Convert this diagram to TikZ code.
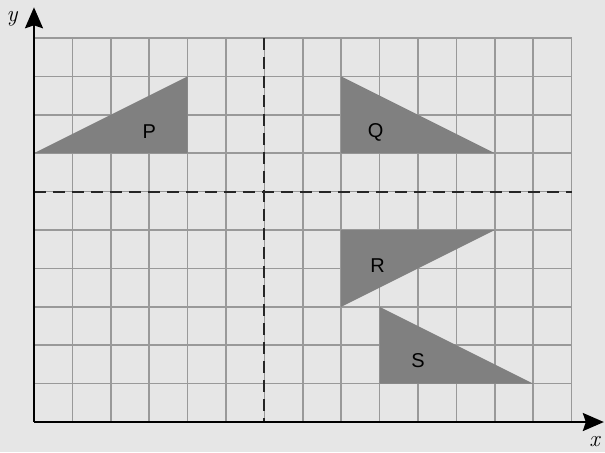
\documentclass[tikz,border=0pt]{standalone}
\usepackage{fontspec}
\setsansfont{Liberation Sans}
\usetikzlibrary{arrows.meta}
\definecolor{bg}{HTML}{E6E6E6}
\definecolor{gridc}{HTML}{999999}
\definecolor{tri}{HTML}{808080}
\begin{document}
\begin{tikzpicture}[x=38.4pt,y=38.4pt,
  gridline/.style={gridc,line width=1.5pt},
  trishape/.style={fill=tri,draw=none},
  lab/.style={font=\sffamily\fontsize{20}{20}\selectfont,text=black},
  axis/.style={black,line width=2.2pt,-{Stealth[length=21pt,width=18pt,inset=3pt]}},
  dashline/.style={black!85,line width=1.8pt,dash pattern=on 12pt off 7pt}]
\fill[bg] (-0.885,-0.781) rectangle (14.870,10.990);
\useasboundingbox (-0.885,-0.781) rectangle (14.870,10.990);
\foreach \i in {1,...,14} \draw[gridline] (\i,0) -- (\i,10);
\foreach \j in {1,...,10} \draw[gridline] (0,\j) -- (14,\j);
\fill[trishape] (0,7) -- (4,9) -- (4,7) -- cycle;
\fill[trishape] (8,9) -- (8,7) -- (12,7) -- cycle;
\fill[trishape] (8,5) -- (12,5) -- (8,3) -- cycle;
\fill[trishape] (9,3) -- (9,1) -- (13,1) -- cycle;
\node[lab] (P) at (3.0,7.55) {P};
\node[lab] (Q) at (8.9,7.55) {Q};
\node[lab] (R) at (8.95,4.08) {R};
\node[lab] (S) at (10.0,1.6) {S};
\draw[dashline] (6,10) -- (6,0);
\draw[dashline] (0,6) -- (14,6);
\coordinate (O) at (0,0);
\coordinate (xe) at (14.84,0);
\coordinate (ye) at (0,10.80);
\draw[axis] (O) -- (xe);
\draw[axis] (O) -- (ye);
\node[font=\itshape\fontsize{23}{23}\selectfont] (ylab) at (-0.57,10.5) {y};
\node[font=\itshape\fontsize{23}{23}\selectfont] (xlab) at (14.6,-0.5) {x};
\end{tikzpicture}
\end{document}
